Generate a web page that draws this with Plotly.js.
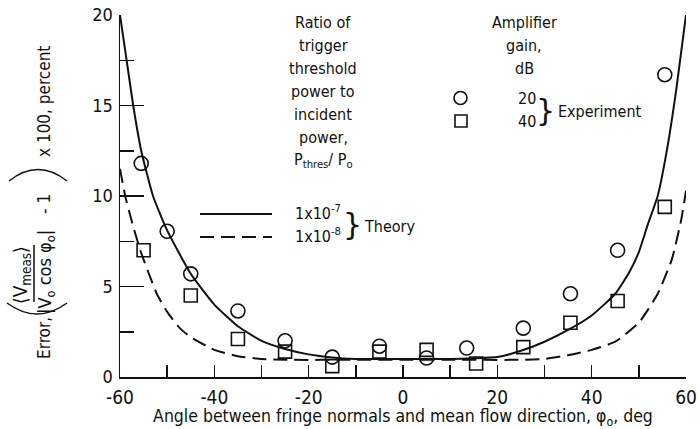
<!DOCTYPE html>
<html>
<head>
<meta charset="utf-8">
<script src="https://cdn.plot.ly/plotly-3.0.1.min.js"></script>
<style>
  html, body { margin: 0; padding: 0; background: #fff; }
  #chart { width: 700px; height: 429px; }
</style>
</head>
<body>
<div id="chart"></div>
<script>
// Experiment, amplifier gain 20 dB (circles)
const gain20X = [-55.5, -50, -45, -35, -25, -15, -5, 5, 13.5, 25.5, 35.5, 45.5, 55.5];
const gain20Y = [11.8, 8.05, 5.7, 3.65, 2.0, 1.1, 1.7, 1.05, 1.6, 2.7, 4.6, 7.0, 16.7];

// Experiment, amplifier gain 40 dB (squares)
const gain40X = [-55, -45, -35, -25, -15, -5, 5, 15.5, 25.5, 35.5, 45.5, 55.5];
const gain40Y = [7.0, 4.5, 2.1, 1.4, 0.6, 1.4, 1.5, 0.75, 1.65, 3.0, 4.2, 9.4];

// Theory, Pthres/Po = 1x10^-7 (solid)
const theory7X = [-60, -57.2, -55.5, -53, -50, -45, -40, -35, -30, -25, -20, -15, -10, 0, 10, 15, 20, 25, 30, 35, 40, 45, 48, 50, 52, 54, 56, 58, 60];
const theory7Y = [20, 15, 12.5, 10, 8.1, 5.7, 4.0, 2.8, 2.0, 1.55, 1.25, 1.08, 1.0, 1.0, 1.0, 1.03, 1.1, 1.45, 1.95, 2.6, 3.4, 4.6, 5.8, 6.9, 8.5, 10.0, 12.6, 16, 20];

// Theory, Pthres/Po = 1x10^-8 (dashed)
const theory8X = [-60, -58.9, -57.5, -55.7, -52.2, -50, -47.3, -45, -40, -35, -30, -25, -10, 0, 10, 25, 30, 35, 40, 45, 50, 54, 57, 59, 60];
const theory8Y = [11.5, 10, 8.6, 7.0, 4.6, 3.6, 2.7, 2.2, 1.5, 1.15, 1.0, 0.95, 0.95, 0.95, 0.95, 0.95, 1.0, 1.2, 1.5, 1.95, 3.0, 4.6, 6.5, 8.7, 10.3];

const xTicks = [-60, -40, -20, 0, 20, 40, 60];
const yTicks = [0, 5, 10, 15, 20];

const FONT = 'Liberation Sans Narrow, DejaVu Sans Condensed, Liberation Sans, sans-serif';

// plot area in pixels
const L = 120, R = 14, T = 15, B = 52;
const W = 700 - L - R, H = 429 - T - B;
const px = x => (x - L) / W;
const py = y => (429 - B - y) / H;

function label(text, x, y, size, opts) {
    return Object.assign({
        text: text, xref: 'paper', yref: 'paper', x: px(x), y: py(y),
        xanchor: 'center', yanchor: 'middle', showarrow: false,
        font: { family: FONT, size: size, color: '#111' }
    }, opts || {});
}

const data = [
    {
        x: theory7X, y: theory7Y, mode: 'lines', type: 'scatter',
        line: { color: '#111', width: 2, shape: 'spline', smoothing: 0.5 }
    },
    {
        x: theory8X, y: theory8Y, mode: 'lines', type: 'scatter',
        line: { color: '#111', width: 2, shape: 'spline', smoothing: 0.5, dash: '14px,7px' }
    },
    {
        x: gain20X, y: gain20Y, mode: 'markers', type: 'scatter',
        marker: { symbol: 'circle-open', size: 14, color: '#111', line: { width: 1.6, color: '#111' } }
    },
    {
        x: gain40X, y: gain40Y, mode: 'markers', type: 'scatter',
        marker: { symbol: 'square-open', size: 13, color: '#111', line: { width: 1.6, color: '#111' } }
    }
];

const ratioLines = ['Ratio of', 'trigger', 'threshold', 'power to', 'incident', 'power,', 'P<sub>thres</sub>/ P<sub>o</sub>'];
const gainLines = ['Amplifier', 'gain,', 'dB'];

const annotations = [];
ratioLines.forEach((t, i) => annotations.push(label(t, 323, 22 + i * 23, 16)));
gainLines.forEach((t, i) => annotations.push(label(t, 524, 22 + i * 23, 16)));

const brace = { font: { family: 'DejaVu Sans', size: 30, color: '#111' } };
annotations.push(label('20', 527, 98, 16));
annotations.push(label('40', 527, 121, 16));
annotations.push(label('}', 545, 110, 30, brace));
annotations.push(label('Experiment', 556, 111, 16, { xanchor: 'left' }));

annotations.push(label('1x10<sup>-7</sup>', 318, 212, 16));
annotations.push(label('1x10<sup>-8</sup>', 318, 235, 16));
annotations.push(label('}', 352, 224, 30, brace));
annotations.push(label('Theory', 362, 226, 16, { xanchor: 'left' }));

// rotated y axis title, built from pieces
const rot = { textangle: -90 };
annotations.push(label('Error,', 44, 338, 17, rot));
annotations.push(label('⟨V<sub>meas</sub>⟩', 21, 275, 19, rot));
annotations.push(label('|V<sub>o</sub> cos φ<sub>o</sub>|', 46, 272, 18, rot));
annotations.push(label('- 1', 44, 204, 17, rot));
annotations.push(label('x 100, percent', 44, 102, 17, rot));

const pathLine = { color: '#111', width: 1.5 };
const shapes = [
    // big parentheses of the y title (rotated)
    { type: 'path', xref: 'paper', yref: 'paper', line: pathLine,
      path: `M ${px(7)} ${py(303)} Q ${px(37)} ${py(325)} ${px(67)} ${py(303)}` },
    { type: 'path', xref: 'paper', yref: 'paper', line: pathLine,
      path: `M ${px(9)} ${py(181)} Q ${px(38)} ${py(158)} ${px(67)} ${py(181)}` },
    // fraction bar
    { type: 'line', xref: 'paper', yref: 'paper', x0: px(34), x1: px(34), y0: py(245), y1: py(302), line: pathLine },
    // legend sample lines
    { type: 'line', xref: 'paper', yref: 'paper', x0: px(200), x1: px(272), y0: py(214), y1: py(214), line: { color: '#111', width: 2 } },
    { type: 'line', xref: 'paper', yref: 'paper', x0: px(200), x1: px(272), y0: py(237), y1: py(237), line: { color: '#111', width: 2, dash: '14px,7px' } },
    // legend symbols
    { type: 'circle', xref: 'paper', yref: 'paper', x0: px(454), x1: px(467), y0: py(91.5), y1: py(104.5), line: { color: '#111', width: 1.6 } },
    { type: 'rect', xref: 'paper', yref: 'paper', x0: px(455), x1: px(467), y0: py(115), y1: py(127), line: { color: '#111', width: 1.6 } }
];

const layout = {
    width: 700, height: 429,
    margin: { l: L, r: R, t: T, b: B },
    paper_bgcolor: '#fff', plot_bgcolor: '#fff',
    showlegend: false,
    font: { family: FONT, color: '#111' },
    xaxis: {
        range: [-60, 60], tickvals: xTicks, ticktext: xTicks.map(String),
        ticks: 'inside', ticklen: 12, tickwidth: 1.5, tickcolor: '#111',
        minor: { dtick: 10, ticks: 'inside', ticklen: 12, tickwidth: 1.5, tickcolor: '#111' },
        showline: true, linecolor: '#111', linewidth: 1.5,
        showgrid: false, zeroline: false, ticklabelstandoff: 3,
        tickfont: { family: FONT, size: 19, color: '#111' },
        title: { text: 'Angle between fringe normals and mean flow direction, φ<sub>o</sub>, deg', font: { family: FONT, size: 17.5, color: '#111' }, standoff: 2 }
    },
    yaxis: {
        range: [0, 20], tickvals: yTicks, ticktext: yTicks.map(String),
        ticks: 'inside', ticklen: 24, tickwidth: 1.5, tickcolor: '#111',
        minor: { dtick: 2.5, ticks: 'inside', ticklen: 14, tickwidth: 1.5, tickcolor: '#111' },
        showline: true, linecolor: '#111', linewidth: 1.5,
        showgrid: false, zeroline: false, ticklabelstandoff: 2,
        tickfont: { family: FONT, size: 18, color: '#111' }
    },
    annotations: annotations,
    shapes: shapes
};

Plotly.newPlot('chart', data, layout, { staticPlot: true });
</script>
</body>
</html>
